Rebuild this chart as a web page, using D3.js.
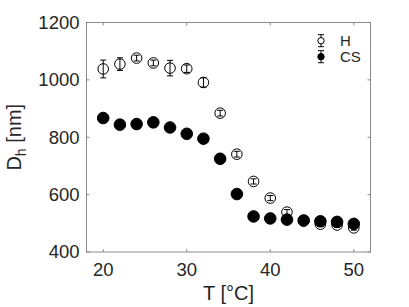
<!DOCTYPE html>
<html>
<head>
<meta charset="utf-8">
<script src="https://cdn.jsdelivr.net/npm/d3@7"></script>
<style>
  body { margin: 0; background: #fff; }
  text { font-family: "Liberation Sans", Arial, Helvetica, sans-serif; }
</style>
</head>
<body>
<div id="chart"></div>
<script>
const temps = [20, 22, 24, 26, 28, 30, 32, 34, 36, 38, 40, 42, 44, 46, 48, 50]
const hValues = [1038, 1055, 1076, 1059, 1041, 1039, 991, 884, 741, 646, 588, 539, 508, 497, 494, 484]
const hErrors = [31, 22, 10, 10, 27, 13, 16, 10, 10, 9, 9, 9, 8, 8, 8, 8]
const csValues = [867, 844, 846, 852, 834, 812, 795, 725, 602, 524, 517, 513, 510, 507, 505, 498]
const csErrors = [5, 5, 5, 5, 5, 5, 5, 5, 5, 5, 5, 5, 5, 5, 5, 5]
const xTicks = [20, 30, 40, 50]
const yTicks = [400, 600, 800, 1000, 1200]

const W = 409, H = 307
const margin = { top: 22.5, left: 86.5, right: 38.5, bottom: 55 }
const width = W - margin.left - margin.right
const height = H - margin.top - margin.bottom

const axisColor = '#8a8a8a'
const textColor = '#262626'

var svg = d3.select('#chart')
    .append('svg')
    .attr('width', W)
    .attr('height', H)

var g = svg.append('g')
    .attr('transform', 'translate(' + margin.left + ',' + margin.top + ')')

var x = d3.scaleLinear().domain([18, 52]).range([0, width])
var y = d3.scaleLinear().domain([400, 1200]).range([height, 0])

// box
g.append('rect')
    .attr('width', width)
    .attr('height', height)
    .attr('fill', 'none')
    .attr('stroke', axisColor)
    .attr('stroke-width', 1)

// ticks (inward, on all four sides)
xTicks.forEach(function(t) {
  g.append('line').attr('x1', x(t)).attr('x2', x(t)).attr('y1', height).attr('y2', height - 3)
    .attr('stroke', axisColor)
  g.append('line').attr('x1', x(t)).attr('x2', x(t)).attr('y1', 0).attr('y2', 3)
    .attr('stroke', axisColor)
  g.append('text')
    .attr('x', x(t))
    .attr('y', height + 24)
    .attr('text-anchor', 'middle')
    .attr('font-size', 18.5)
    .attr('fill', textColor)
    .text(t)
})
yTicks.forEach(function(t) {
  g.append('line').attr('x1', 0).attr('x2', 3).attr('y1', y(t)).attr('y2', y(t))
    .attr('stroke', axisColor)
  g.append('line').attr('x1', width).attr('x2', width - 3).attr('y1', y(t)).attr('y2', y(t))
    .attr('stroke', axisColor)
  g.append('text')
    .attr('x', -7)
    .attr('y', y(t))
    .attr('dy', '0.35em')
    .attr('text-anchor', 'end')
    .attr('font-size', 18.5)
    .attr('fill', textColor)
    .text(t)
})

// axis labels
g.append('text')
    .attr('x', width / 2)
    .attr('y', height + 48)
    .attr('text-anchor', 'middle')
    .attr('font-size', 20)
    .attr('fill', textColor)
    .text('T [°C]')

var yl = g.append('text')
    .attr('transform', 'translate(' + (-66) + ',' + (height / 2) + ') rotate(-90)')
    .attr('text-anchor', 'middle')
    .attr('font-size', 20)
    .attr('fill', textColor)
yl.append('tspan').text('D')
yl.append('tspan').attr('font-size', 14).attr('dy', 5).text('h')
yl.append('tspan').attr('dy', -5).text(' [nm]')

// series
function drawSeries(vals, errs, filled, r) {
  var pts = temps.map(function(t, i) { return { t: t, v: vals[i], e: errs[i] } })
  var s = g.append('g')
  s.selectAll('.err')
      .data(pts)
      .enter().append('path')
      .attr('class', 'err')
      .attr('d', function(d) {
        var cx = x(d.t), y1 = y(d.v + d.e), y2 = y(d.v - d.e)
        return 'M' + cx + ',' + y1 + 'V' + y2 +
          'M' + (cx - 3) + ',' + y1 + 'H' + (cx + 3) +
          'M' + (cx - 3) + ',' + y2 + 'H' + (cx + 3)
      })
      .attr('stroke', '#000')
      .attr('stroke-width', 1)
      .attr('fill', 'none')
  s.selectAll('.pt')
      .data(pts)
      .enter().append('circle')
      .attr('class', 'pt')
      .attr('cx', function(d) { return x(d.t) })
      .attr('cy', function(d) { return y(d.v) })
      .attr('r', r)
      .attr('fill', filled ? '#000' : 'none')
      .attr('stroke', '#000')
      .attr('stroke-width', 1)
}
drawSeries(hValues, hErrors, false, 5.3)
drawSeries(csValues, csErrors, true, 5.8)

// legend
var legend = [
  { name: 'H', filled: false },
  { name: 'CS', filled: true }
]
legend.forEach(function(d, i) {
  var lx = 321 - margin.left, ly = 40.7 - margin.top + i * 16
  g.append('path')
    .attr('d', 'M' + lx + ',' + (ly - 6) + 'V' + (ly + 6) +
      'M' + (lx - 3) + ',' + (ly - 6) + 'H' + (lx + 3) +
      'M' + (lx - 3) + ',' + (ly + 6) + 'H' + (lx + 3))
    .attr('stroke', '#000')
    .attr('fill', 'none')
  g.append('circle')
    .attr('cx', lx).attr('cy', ly).attr('r', 3.2)
    .attr('fill', d.filled ? '#000' : '#fff')
    .attr('stroke', '#000')
  g.append('text')
    .attr('x', lx + 19)
    .attr('y', ly)
    .attr('dy', '0.36em')
    .attr('font-size', 15)
    .attr('fill', textColor)
    .text(d.name)
})
</script>
</body>
</html>
